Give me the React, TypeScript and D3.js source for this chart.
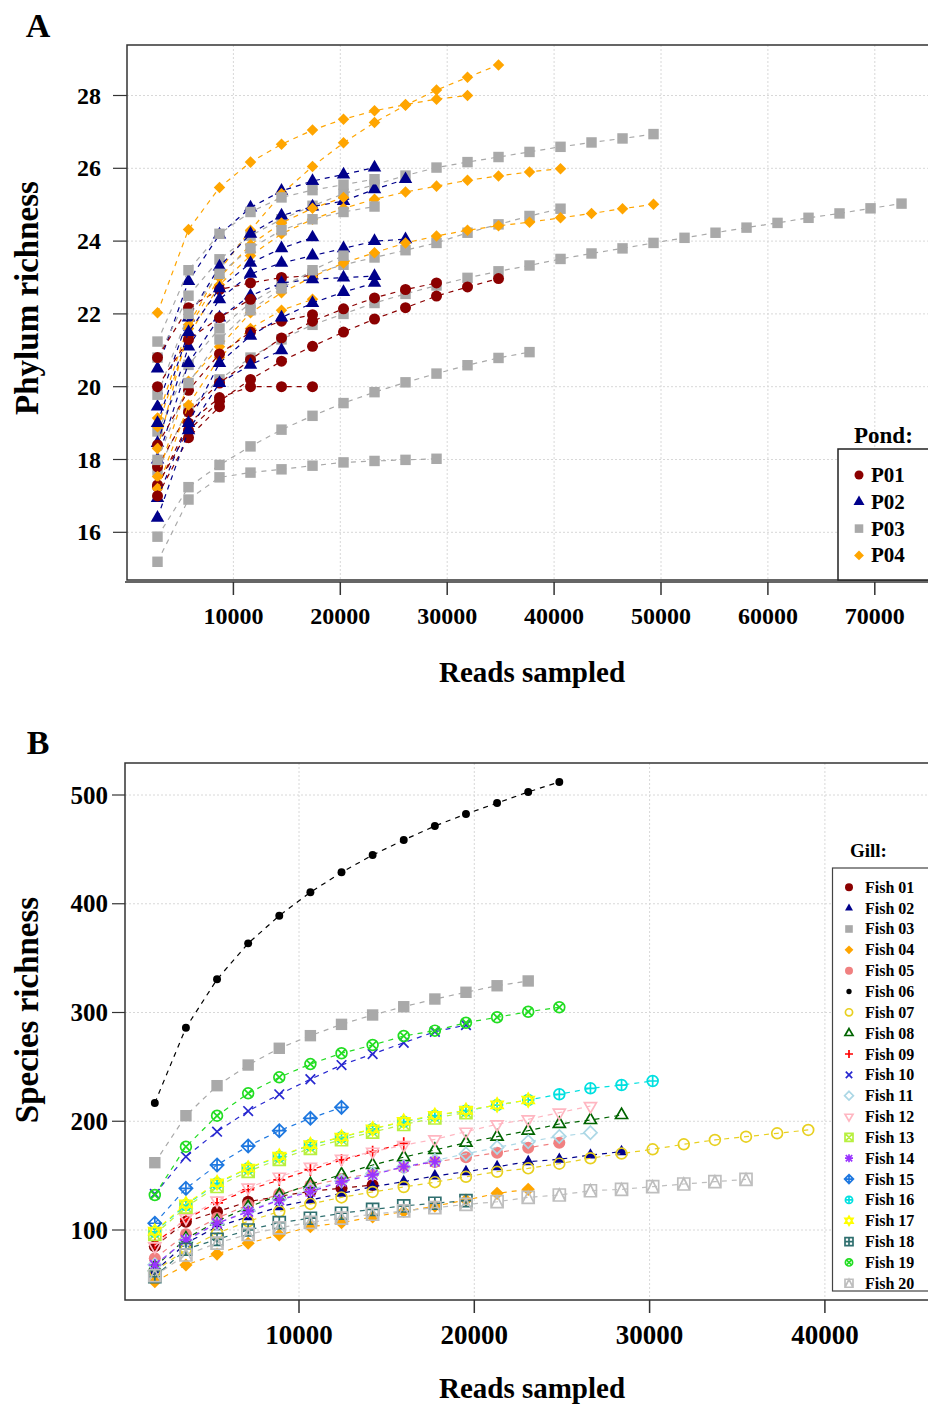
import React from 'react';
import * as d3 from 'd3';

const FONT = "'Liberation Serif', 'Times New Roman', Times, serif";

// ---------- Panel A data ----------
const STEP_A = 2900; // reads between rarefaction points
const xTicksA = [10000, 20000, 30000, 40000, 50000, 60000, 70000];
const yTicksA = [16, 18, 20, 22, 24, 26, 28];
const pondNames = ['P01', 'P02', 'P03', 'P04'];
const pondColors = ['#8B0000', '#00008B', '#A9A9A9', '#FFA500'];
const pondShapes = ['circleF', 'triF', 'squareF', 'diamondF'];

const p01 = [
  [17.3, 18.8, 19.6, 20.2, 20.7, 21.11, 21.5, 21.86, 22.17, 22.49, 22.74, 22.97],
  [17.8, 19.3, 20.1, 20.74, 21.34, 21.8, 22.14, 22.44, 22.67, 22.85],
  [20.8, 22.17, 22.67, 22.85, 23.0, 23.05],
  [17.25, 19.0, 19.7, 20.0, 20.0, 20.0],
  [18.4, 19.9, 20.9, 21.5, 21.8, 21.98],
  [17.0, 18.6, 19.45],
  [20.0, 21.3, 21.9, 22.4],
];
const p02 = [
  [20.5, 22.9, 24.18, 24.92, 25.38, 25.65, 25.83, 26.02],
  [19.45, 21.9, 23.3, 24.2, 24.7, 24.95, 25.1, 25.42, 25.7],
  [18.45, 21.1, 22.4, 23.1, 23.4, 23.6, 23.8, 24.0, 24.05],
  [18.0, 20.65, 21.9, 22.5, 22.85, 22.95, 23.0, 23.04],
  [16.94, 19.0, 20.65, 21.4, 21.9, 22.3, 22.6, 22.85],
  [16.4, 18.8, 20.1, 20.6, 21.0],
  [19.0, 21.5, 22.7, 23.4, 23.8, 24.1],
];
const p03 = [
  [17.7, 19.4, 20.2, 20.8, 21.3, 21.7, 22.0, 22.3, 22.55, 22.78, 22.99, 23.17, 23.33, 23.51, 23.66, 23.8, 23.95, 24.09, 24.23, 24.37, 24.5, 24.64, 24.76, 24.9, 25.03],
  [20.8, 22.5, 23.5, 24.15, 24.6, 24.97, 25.3, 25.55, 25.8, 26.02, 26.17, 26.31, 26.45, 26.59, 26.71, 26.82, 26.94],
  [18.77, 20.6, 21.6, 22.3, 22.8, 23.1, 23.35, 23.55, 23.75, 23.95, 24.23, 24.46, 24.69, 24.89],
  [15.88, 17.24, 17.85, 18.36, 18.82, 19.2, 19.55, 19.85, 20.12, 20.36, 20.59, 20.79, 20.95],
  [15.19, 16.9, 17.51, 17.64, 17.73, 17.83, 17.92, 17.96, 17.99, 18.02],
  [21.24, 23.2, 24.2, 24.8, 25.2, 25.4, 25.55, 25.7],
  [19.78, 22.0, 23.1, 23.8, 24.3, 24.6, 24.8, 24.95],
  [17.99, 20.1, 21.3, 22.1, 22.7, 23.2, 23.6],
];
const p04 = [
  [22.03, 24.32, 25.47, 26.17, 26.66, 27.05, 27.35, 27.58, 27.75, 27.9, 28.0],
  [19.14, 21.7, 23.2, 24.3, 25.3, 26.05, 26.7, 27.26, 27.73, 28.15, 28.5, 28.84],
  [18.9, 21.4, 22.8, 23.6, 24.2, 24.6, 24.9, 25.15, 25.35, 25.51, 25.67, 25.79, 25.9, 25.99],
  [17.53, 20.15, 21.1, 22.03, 22.58, 23.02, 23.4, 23.68, 23.95, 24.14, 24.3, 24.42, 24.52, 24.64, 24.76, 24.89, 25.01],
  [17.2, 19.5, 20.8, 21.6, 22.1, 22.4],
  [18.3, 21.6, 23.0, 23.9, 24.5, 24.9, 25.2],
];
const pondCurves = [p01, p02, p03, p04];

// ---------- Panel B data ----------
const STEP_B = 1775;
const xTicksB = [10000, 20000, 30000, 40000];
const yTicksB = [100, 200, 300, 400, 500];
const fishNames = ['Fish 01', 'Fish 02', 'Fish 03', 'Fish 04', 'Fish 05', 'Fish 06', 'Fish 07', 'Fish 08', 'Fish 09', 'Fish 10',
  'Fish 11', 'Fish 12', 'Fish 13', 'Fish 14', 'Fish 15', 'Fish 16', 'Fish 17', 'Fish 18', 'Fish 19', 'Fish 20'];
const fishColors = ['#8B0000', '#00008B', '#A9A9A9', '#FFA500', '#F08080', '#000000', '#E8D020', '#006400', '#FF0000', '#2828D0',
  '#ADD8E6', '#FFB6C1', '#B8F040', '#9933FF', '#1E78E0', '#00E0E0', '#FFFF00', '#2F6F6F', '#22DD22', '#BEBEBE'];
const fishShapes = ['circleF', 'triF', 'squareF', 'diamondF', 'circleF', 'dot', 'circleO', 'triO', 'plus', 'x',
  'diamondO', 'triDownO', 'squareX', 'asterisk', 'diamondPlus', 'circlePlus', 'star6', 'squarePlus', 'circleX', 'squareTri'];

const fish01 = [85, 107.6, 116.8, 126, 131, 135.5, 138.5, 141.4];
const fish02 = [61.7, 87.8, 103, 112.2, 121.4, 127.6, 133.7, 139.8, 144.4, 149.7, 153.6, 158.2, 162.8, 165, 168.9, 172];
const fish03 = [161.9, 205.1, 232.7, 251.7, 267.1, 278.7, 289.1, 297.7, 305.3, 312.4, 318.6, 324.6, 329];
const fish04 = [52.5, 67.8, 77.9, 87.8, 95.4, 103, 106.7, 112, 117, 122, 127.5, 133.7, 137.4];
const fish05 = [74, 96, 111, 123, 133, 141, 147, 152, 157.5, 162.5, 166.9, 171.1, 175.7, 180.3];
const fish06 = [216.8, 286, 330.5, 363.6, 389, 410.5, 428.9, 444.8, 458.6, 471.5, 482.5, 492.6, 502.8, 512];
const fish07 = [62, 82, 97, 108, 117, 124, 130, 135, 139.5, 144, 149, 153.6, 156.7, 161, 166, 170.3, 174.2, 178.8, 182.8, 185.8, 188.9, 192];
const fish08 = [66, 92, 108, 121, 132, 142, 151, 159.8, 167, 173.6, 180.3, 185.8, 191.3, 197.5, 201.1, 205.7];
const fish09 = [88, 110, 125, 137, 146, 155.2, 164.4, 172, 179.7];
const fish10 = [133.1, 167.4, 190.4, 209.4, 224.8, 238.6, 251.7, 261.8, 272.2, 282.3, 288.5];
const fish11 = [68, 90, 106, 118, 128, 137, 145, 152, 158, 164, 170, 176, 181.2, 186, 189.5];
const fish12 = [85, 111, 127, 139, 149, 158, 165.5, 172, 178, 183.4, 190.4, 197.2, 201.8, 207.9, 214];
const fish13 = [96, 121, 140, 154, 165, 175, 183, 190, 197, 203, 208];
const fish14 = [67.8, 90.8, 106.2, 116.8, 127.6, 135.2, 144.4, 150.6, 158.2, 162.8];
const fish15 = [106.2, 138.3, 159.8, 177.2, 191.3, 202.7, 212.8];
const fish16 = [98.4, 123, 142.9, 156.7, 167.4, 178.2, 185.2, 192.9, 199.6, 205.1, 209.7, 214.9, 219.5, 224.8, 230.3, 233.3, 237];
const fish17 = [99, 124, 143.5, 157, 168, 178.5, 185.5, 193, 200, 205.5, 210, 215, 219.5];
const fish18 = [57.1, 82.3, 91.4, 100, 106.7, 110.8, 115.4, 119, 122.1, 124.6, 127];
const fish19 = [132.2, 176.6, 205.1, 225.7, 240.4, 252.6, 262.5, 270.1, 278.4, 283.3, 290.6, 295.6, 300.7, 304.8];
const fish20 = [58, 77, 88, 96, 102, 107, 111, 114.5, 117.5, 120.5, 123.5, 126, 130, 132.2, 136.1, 137.4, 139.8, 142.3, 144.4, 146.6];
const fishSeries = [fish01, fish02, fish03, fish04, fish05, fish06, fish07, fish08, fish09, fish10,
  fish11, fish12, fish13, fish14, fish15, fish16, fish17, fish18, fish19, fish20];

// ---------- scales ----------
const xA = d3.scaleLinear().domain([0, 10000]).range([126.5, 233.4]);
const yA = d3.scaleLinear().domain([16, 26]).range([532.3, 168.3]);
const xB = d3.scaleLinear().domain([0, 10000]).range([123.7, 299]);
const yB = d3.scaleLinear().domain([100, 500]).range([1230, 795]);

function Marker({ shape, x, y, color, s }: { shape: string; x: number; y: number; color: string; s: number }) {
  const h = s / 2;
  const sw = 1.7;
  const tri = (up: boolean) => {
    const th = s * 0.866;
    return up
      ? `M0,${-2 * th / 3}L${h},${th / 3}L${-h},${th / 3}Z`
      : `M0,${2 * th / 3}L${h},${-th / 3}L${-h},${-th / 3}Z`;
  };
  const dia = `M0,${-h * 1.1}L${h * 1.1},0L0,${h * 1.1}L${-h * 1.1},0Z`;
  const plus = `M${-h},0L${h},0M0,${-h}L0,${h}`;
  const ex = `M${-h * 0.8},${-h * 0.8}L${h * 0.8},${h * 0.8}M${-h * 0.8},${h * 0.8}L${h * 0.8},${-h * 0.8}`;
  const sq = `M${-h},${-h}H${h}V${h}H${-h}Z`;
  let el: React.ReactNode = null;
  const st = { fill: 'none', stroke: color, strokeWidth: sw };
  switch (shape) {
    case 'circleF': el = <circle r={h} fill={color} />; break;
    case 'triF': el = <path d={tri(true)} fill={color} />; break;
    case 'squareF': el = <rect x={-h * 0.95} y={-h * 0.95} width={s * 0.95} height={s * 0.95} fill={color} />; break;
    case 'diamondF': el = <path d={dia} fill={color} />; break;
    case 'dot': el = <circle r={h * 0.66} fill={color} />; break;
    case 'circleO': el = <circle r={h * 0.9} {...st} />; break;
    case 'triO': el = <path d={tri(true)} {...st} />; break;
    case 'plus': el = <path d={plus} {...st} />; break;
    case 'x': el = <path d={ex} {...st} />; break;
    case 'diamondO': el = <path d={dia} {...st} />; break;
    case 'triDownO': el = <path d={tri(false)} {...st} />; break;
    case 'squareX': el = <path d={sq + `M${-h},${-h}L${h},${h}M${-h},${h}L${h},${-h}`} {...st} />; break;
    case 'asterisk': el = <path d={plus + ex} {...st} />; break;
    case 'diamondPlus': el = <path d={dia + `M${-h * 1.1},0L${h * 1.1},0M0,${-h * 1.1}L0,${h * 1.1}`} {...st} />; break;
    case 'circlePlus': el = <g><circle r={h * 0.9} {...st} /><path d={`M${-h * 0.9},0L${h * 0.9},0M0,${-h * 0.9}L0,${h * 0.9}`} {...st} /></g>; break;
    case 'star6': el = <path d={tri(true) + tri(false)} {...st} />; break;
    case 'squarePlus': el = <path d={sq + `M${-h},0L${h},0M0,${-h}L0,${h}`} {...st} />; break;
    case 'circleX': el = <g><circle r={h * 0.9} {...st} /><path d={`M${-h * 0.64},${-h * 0.64}L${h * 0.64},${h * 0.64}M${-h * 0.64},${h * 0.64}L${h * 0.64},${-h * 0.64}`} {...st} /></g>; break;
    case 'squareTri': el = <path d={sq + `M${-h},${h}L0,${-h}L${h},${h}`} {...st} />; break;
    default: el = null;
  }
  return <g transform={`translate(${x},${y})`}>{el}</g>;
}

export default function App() {
  const lineA = d3.line<number>().x((_, i) => xA((i + 1) * STEP_A)).y((d) => yA(d));
  const lineB = d3.line<number>().x((_, i) => xB((i + 1) * STEP_B)).y((d) => yB(d));

  const drawOrderA: { pond: number; vals: number[] }[] = [];
  const maxCurves = d3.max(pondCurves, (c) => c.length) as number;
  for (let i = 0; i < maxCurves; i++) {
    [2, 3, 0, 1].forEach((p) => {
      if (pondCurves[p][i]) drawOrderA.push({ pond: p, vals: pondCurves[p][i] });
    });
  }

  const aLeft = 127, aTop = 45, aBottom = 580, right = 940;
  const bLeft = 125, bTop = 763, bBottom = 1300;
  const grid = { stroke: '#d8d8d8', strokeWidth: 1, strokeDasharray: '2,2' };
  const sizeA = [11, 13.5, 11, 10.5];

  return (
    <svg width={928} height={1406} style={{ position: 'absolute', left: 0, top: 0, display: 'block', background: '#fff' }}
      fontFamily={FONT}>
      <rect x={0} y={0} width={928} height={1406} fill="#fff" />
      {/* ================= PANEL A ================= */}
      <text x={38} y={25} fontSize={34} fontWeight="bold" textAnchor="middle" dominantBaseline="central">A</text>
      {xTicksA.map((t) => <line key={'gax' + t} x1={xA(t)} x2={xA(t)} y1={aTop} y2={aBottom} {...grid} />)}
      {yTicksA.map((t) => <line key={'gay' + t} x1={aLeft} x2={right} y1={yA(t)} y2={yA(t)} {...grid} />)}
      {drawOrderA.map((c, k) => (
        <g key={'ca' + k}>
          <path d={lineA(c.vals) || ''} fill="none" stroke={pondColors[c.pond]} strokeWidth={1.2} strokeDasharray="5,5" />
          {c.vals.map((v, i) => (
            <Marker key={i} shape={pondShapes[c.pond]} x={xA((i + 1) * STEP_A)} y={yA(v)} color={pondColors[c.pond]}
              s={sizeA[c.pond]} />
          ))}
        </g>
      ))}
      <rect x={aLeft} y={aTop} width={right - aLeft} height={aBottom - aTop} fill="none" stroke="#333" strokeWidth={1.5} />
      <line x1={aLeft - 2} x2={right} y1={aBottom + 2} y2={aBottom + 2} stroke="#333" strokeWidth={1.5} />
      {xTicksA.map((t) => (
        <g key={'xa' + t}>
          <line x1={xA(t)} x2={xA(t)} y1={aBottom + 2} y2={aBottom + 15} stroke="#333" strokeWidth={1.5} />
          <text x={xA(t)} y={616} fontSize={24} fontWeight="bold" textAnchor="middle" dominantBaseline="central">{t}</text>
        </g>
      ))}
      {yTicksA.map((t) => (
        <g key={'ya' + t}>
          <line x1={aLeft - 14} x2={aLeft} y1={yA(t)} y2={yA(t)} stroke="#333" strokeWidth={1.2} />
          <text x={101} y={yA(t)} fontSize={24} fontWeight="bold" textAnchor="end" dominantBaseline="central">{t}</text>
        </g>
      ))}
      <text x={532} y={672} fontSize={29} fontWeight="bold" textAnchor="middle" dominantBaseline="central">Reads sampled</text>
      <text transform="translate(27,298) rotate(-90)" fontSize={33} fontWeight="bold" textAnchor="middle" dominantBaseline="central">Phylum richness</text>
      <text x={854} y={435} fontSize={23} fontWeight="bold" dominantBaseline="central">Pond:</text>
      <rect x={838} y={449} width={120} height={aBottom - 449} fill="#fff" stroke="#222" strokeWidth={1.5} />
      {pondNames.map((n, i) => (
        <g key={'la' + n}>
          <Marker shape={pondShapes[i]} x={859} y={475 + i * 26.8} color={pondColors[i]} s={i === 1 ? 11 : 9} />
          <text x={871} y={475 + i * 26.8} fontSize={21} fontWeight="bold" dominantBaseline="central">{n}</text>
        </g>
      ))}

      {/* ================= PANEL B ================= */}
      <text x={38} y={742} fontSize={34} fontWeight="bold" textAnchor="middle" dominantBaseline="central">B</text>
      {xTicksB.map((t) => <line key={'gbx' + t} x1={xB(t)} x2={xB(t)} y1={bTop} y2={bBottom} {...grid} />)}
      {yTicksB.map((t) => <line key={'gby' + t} x1={bLeft} x2={right} y1={yB(t)} y2={yB(t)} {...grid} />)}
      {fishSeries.map((vals, f) => (
        <g key={'cb' + f}>
          <path d={lineB(vals) || ''} fill="none" stroke={fishColors[f]} strokeWidth={1.2} strokeDasharray="5,5" />
          {vals.map((v, i) => (
            <Marker key={i} shape={fishShapes[f]} x={xB((i + 1) * STEP_B)} y={yB(v)} color={fishColors[f]} s={12} />
          ))}
        </g>
      ))}
      <rect x={bLeft} y={bTop} width={right - bLeft} height={bBottom - bTop} fill="none" stroke="#333" strokeWidth={1.5} />
      {xTicksB.map((t) => (
        <g key={'xb' + t}>
          <line x1={xB(t)} x2={xB(t)} y1={bBottom} y2={bBottom + 13} stroke="#333" strokeWidth={1.5} />
          <text x={xB(t)} y={1335} fontSize={27} fontWeight="bold" textAnchor="middle" dominantBaseline="central">{t}</text>
        </g>
      ))}
      {yTicksB.map((t) => (
        <g key={'yb' + t}>
          <line x1={bLeft - 13} x2={bLeft} y1={yB(t)} y2={yB(t)} stroke="#333" strokeWidth={1.2} />
          <text x={108} y={yB(t)} fontSize={25} fontWeight="bold" textAnchor="end" dominantBaseline="central">{t}</text>
        </g>
      ))}
      <text x={532} y={1388} fontSize={29} fontWeight="bold" textAnchor="middle" dominantBaseline="central">Reads sampled</text>
      <text transform="translate(27,1010) rotate(-90)" fontSize={33} fontWeight="bold" textAnchor="middle" dominantBaseline="central">Species richness</text>
      <text x={850} y={850} fontSize={19} fontWeight="bold" dominantBaseline="central">Gill:</text>
      <rect x={832.5} y={868} width={120} height={1291 - 868} fill="#fff" stroke="#444" strokeWidth={1.2} />
      {fishNames.map((n, i) => (
        <g key={'lb' + n}>
          <Marker shape={fishShapes[i]} x={849} y={887.3 + i * 20.84} color={fishColors[i]} s={8} />
          <text x={865} y={887.3 + i * 20.84} fontSize={16} fontWeight="bold" dominantBaseline="central">{n}</text>
        </g>
      ))}
    </svg>
  );
}
